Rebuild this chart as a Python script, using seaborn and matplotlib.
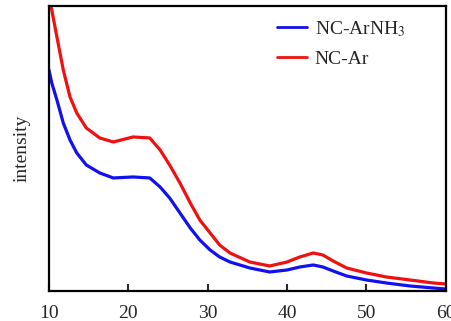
import matplotlib
matplotlib.use("Agg")
import matplotlib.pyplot as plt
import seaborn as sns
import pandas as pd

# two-theta (degrees) and intensity (arbitrary units)
two_theta = [10, 10.35, 11, 11.8, 12.65, 13.5, 14.7, 16.4, 18.1, 20.6, 22.7, 24, 25.2,
             26.5, 27.8, 29, 30.3, 31.5, 32.8, 35.3, 37.8, 40, 41.6, 43.3, 44.5, 45.8,
             47.5, 50, 52.5, 55.5, 58.4, 60]
y_arnh3 = [221, 208, 191, 168, 151, 138, 126, 118, 113, 114, 113, 104, 93,
           78, 63, 51, 41, 34, 29, 23, 19, 21, 24, 26, 24, 20,
           15, 11, 8, 5, 3, 2]
y_ar = [295, 281, 254, 221, 194, 178, 163, 153, 149, 154, 153, 141, 126,
        108, 88, 71, 58, 46, 38, 29, 25, 29, 34, 38, 36, 30,
        23, 18, 14, 11, 8, 7]
series_names = ["NC-ArNH$_3$", "NC-Ar"]
series_colors = ["#1010f0", "#f01010"]
x_ticks = [10, 20, 30, 40, 50, 60]
y_label = "intensity"

df = pd.concat([
    pd.DataFrame({"x": two_theta, "y": y_arnh3, "s": series_names[0]}),
    pd.DataFrame({"x": two_theta, "y": y_ar, "s": series_names[1]}),
])

sns.set_style("white")
plt.rcParams["font.family"] = ["Liberation Serif", "DejaVu Serif"]
plt.rcParams["mathtext.fontset"] = "stix"

fig = plt.figure(figsize=(4.51, 3.21), dpi=100)
ax = fig.add_axes([0.1086, 0.0935, 0.880, 0.888])
sns.lineplot(data=df, x="x", y="y", hue="s", palette=dict(zip(series_names, series_colors)),
             linewidth=2.3, ax=ax, sort=False, solid_joinstyle="round")
ax.set_xlim(10, 60)
ax.set_ylim(0, 285)
ax.set_xticks(x_ticks)
ax.set_yticks([])
ax.set_xlabel("")
ax.set_ylabel(y_label, fontsize=14, labelpad=13)
ax.tick_params(axis="x", direction="in", length=5, width=1.5, labelsize=14, pad=10, bottom=True)
for sp in ax.spines.values():
    sp.set_linewidth(1.6)
    sp.set_color("black")
leg = ax.legend(frameon=False, loc="upper left", bbox_to_anchor=(0.545, 0.995),
                fontsize=14, handlelength=1.55, handletextpad=0.4, labelspacing=0.6,
                borderaxespad=0.2)
for line in leg.get_lines():
    line.set_linewidth(2)
fig.savefig("out.png", dpi=100)
